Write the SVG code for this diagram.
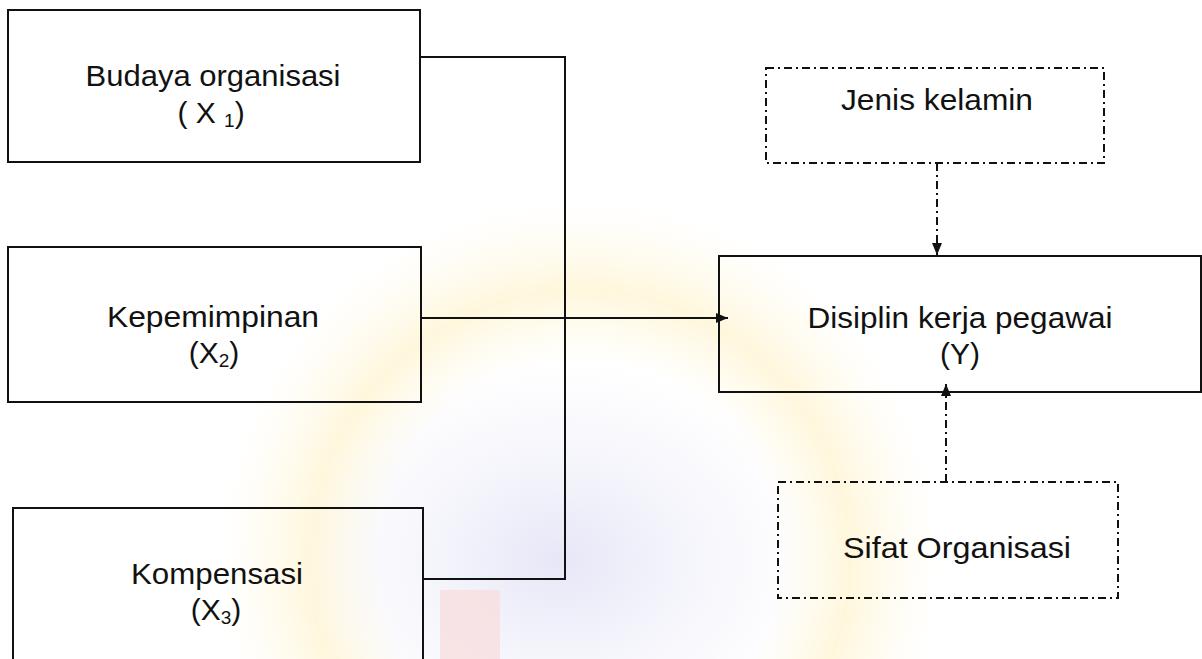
<svg xmlns="http://www.w3.org/2000/svg" width="1202" height="659" viewBox="0 0 1202 659">
  <defs>
    <style>
      .box { fill: none; stroke: #111; stroke-width: 2; }
      .dbox { fill: none; stroke: #111; stroke-width: 2; stroke-dasharray: 8 4 2 4; }
      .line { fill: none; stroke: #111; stroke-width: 2; }
      .dline { fill: none; stroke: #111; stroke-width: 2; stroke-dasharray: 8 4 2 4; }
      .lbl { font-family: "Liberation Sans", Arial, sans-serif; font-size: 30px; fill: #111; text-anchor: middle; }
      .sub { font-size: 19px; }
    </style>
    <marker id="arrow" viewBox="0 0 12 10" refX="12" refY="5" markerWidth="12" markerHeight="10" markerUnits="userSpaceOnUse" orient="auto">
      <path d="M0,0 L12,5 L0,10 z" fill="#111"/>
    </marker>
    <radialGradient id="wmYellow" cx="0.5" cy="0.5" r="0.5">
      <stop offset="0.55" stop-color="#fff3c8" stop-opacity="0"/>
      <stop offset="0.75" stop-color="#fff0c0" stop-opacity="0.55"/>
      <stop offset="1" stop-color="#fff6dc" stop-opacity="0"/>
    </radialGradient>
    <radialGradient id="wmViolet" cx="0.5" cy="0.5" r="0.5">
      <stop offset="0" stop-color="#dcdcf4" stop-opacity="0.7"/>
      <stop offset="1" stop-color="#e8e8f8" stop-opacity="0"/>
    </radialGradient>
  </defs>

  <rect width="1202" height="659" fill="#ffffff"/>

  <!-- faint background emblem -->
  <g id="watermark">
    <circle cx="580" cy="560" r="360" fill="url(#wmYellow)"/>
    <ellipse cx="560" cy="560" rx="260" ry="200" fill="url(#wmViolet)"/>
    <rect x="440" y="590" width="60" height="69" fill="#f8dede" opacity="0.8"/>
  </g>

  <!-- connectors -->
  <g id="connectors">
    <polyline class="line" points="420,57 565,57 565,579 423,579"/>
    <line class="line" x1="421" y1="318" x2="728" y2="318" marker-end="url(#arrow)"/>
    <line class="dline" x1="937" y1="163" x2="937" y2="255" marker-end="url(#arrow)"/>
    <line class="dline" x1="946" y1="482" x2="946" y2="384" marker-end="url(#arrow)"/>
  </g>

  <g id="budaya">
    <rect class="box" x="8" y="10" width="412" height="152" fill="#fff"/>
    <text class="lbl" x="213" y="86" textLength="255" lengthAdjust="spacingAndGlyphs">Budaya organisasi</text>
    <text class="lbl" x="211" y="123">( X <tspan class="sub" dy="4">1</tspan><tspan dy="-4">)</tspan></text>
  </g>

  <g id="kepemimpinan">
    <rect class="box" x="8" y="247" width="413" height="155" fill="#fff"/>
    <text class="lbl" x="213" y="327" textLength="212" lengthAdjust="spacingAndGlyphs">Kepemimpinan</text>
    <text class="lbl" x="214" y="363">(X<tspan class="sub" dy="4">2</tspan><tspan dy="-4">)</tspan></text>
  </g>

  <g id="kompensasi">
    <rect class="box" x="13" y="508" width="410" height="170" fill="none"/>
    <text class="lbl" x="217" y="584" textLength="172" lengthAdjust="spacingAndGlyphs">Kompensasi</text>
    <text class="lbl" x="216" y="620">(X<tspan class="sub" dy="4">3</tspan><tspan dy="-4">)</tspan></text>
  </g>

  <g id="disiplin">
    <rect class="box" x="719" y="256" width="482" height="136" fill="none"/>
    <text class="lbl" x="960" y="328" textLength="305" lengthAdjust="spacingAndGlyphs">Disiplin kerja pegawai</text>
    <text class="lbl" x="960" y="364">(Y)</text>
  </g>

  <g id="jenis-kelamin">
    <rect class="dbox" x="766" y="68" width="338" height="95"/>
    <text class="lbl" x="937" y="110" textLength="192" lengthAdjust="spacingAndGlyphs">Jenis kelamin</text>
  </g>

  <g id="sifat-organisasi">
    <rect class="dbox" x="778" y="482" width="340" height="116"/>
    <text class="lbl" x="957" y="558" textLength="228" lengthAdjust="spacingAndGlyphs">Sifat Organisasi</text>
  </g>
</svg>
